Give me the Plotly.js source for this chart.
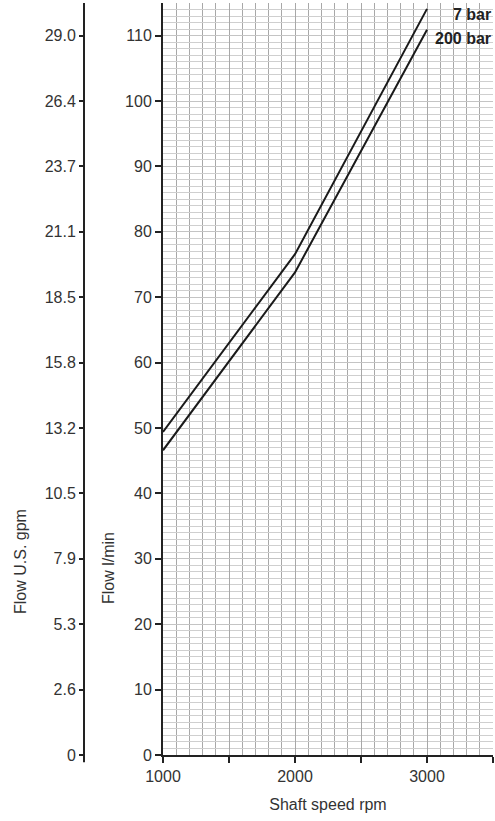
<!DOCTYPE html>
<html>
<head>
<meta charset="utf-8">
<script src="https://cdn.plot.ly/plotly-3.0.1.min.js"></script>
<style>html,body{margin:0;padding:0;background:#fff;}</style>
</head>
<body>
<div id="chart" style="width:495px;height:821px;"></div>
<script>
// Data
const speedRpm = [1000, 2000, 3000];
const flow7bar = [49.4, 76.6, 114.1];
const flow200bar = [46.6, 73.8, 110.9];
const seriesNames = ['7 bar', '200 bar'];
const lpmTicks = [0, 10, 20, 30, 40, 50, 60, 70, 80, 90, 100, 110];
const gpmTickText = ['0', '2.6', '5.3', '7.9', '10.5', '13.2', '15.8', '18.5', '21.1', '23.7', '26.4', '29.0'];
const xTickVals = [1000, 1500, 2000, 2500, 3000, 3500];
const xTickText = ['1000', '', '2000', '', '3000', ''];

const W = 495, H = 821;
const mL = 60, mR = 2, mT = 3, mB = 66;
const pw = W - mL - mR;
const ph = H - mT - mB;
const xDomStart = (163 - mL) / pw;
const y2Pos = (84 - mL) / pw;
const ink = '#222';
const font = {family: 'Liberation Sans, Arial, sans-serif', size: 16, color: '#333'};

const traces = [
  {x: speedRpm, y: flow7bar, name: seriesNames[0], mode: 'lines', line: {color: '#1a1a1a', width: 2}, xaxis: 'x', yaxis: 'y'},
  {x: speedRpm, y: flow200bar, name: seriesNames[1], mode: 'lines', line: {color: '#1a1a1a', width: 2}, xaxis: 'x', yaxis: 'y'},
  {x: [1000], y: [0], mode: 'markers', marker: {opacity: 0}, hoverinfo: 'skip', showlegend: false, xaxis: 'x', yaxis: 'y2'}
];

const layout = {
  width: W, height: H,
  margin: {l: mL, r: mR, t: mT, b: mB},
  paper_bgcolor: '#fff', plot_bgcolor: '#fff',
  showlegend: false,
  font: font,
  xaxis: {
    domain: [xDomStart, 1],
    range: [1000, 3500],
    tickvals: xTickVals, ticktext: xTickText,
    ticks: 'outside', ticklen: 6, tickwidth: 2, tickcolor: ink,
    showline: true, linecolor: ink, linewidth: 2,
    showgrid: true, gridcolor: '#a8a8a8', gridwidth: 1,
    minor: {dtick: 100, showgrid: true, gridcolor: '#a8a8a8', gridwidth: 1},
    zeroline: false,
    tickfont: font,
    title: {text: 'Shaft speed rpm', font: font, standoff: 15},
    fixedrange: true
  },
  yaxis: {
    range: [0, 115],
    tickvals: lpmTicks,
    ticks: 'outside', ticklen: 6, tickwidth: 2, tickcolor: ink,
    showline: true, linecolor: ink, linewidth: 2,
    showgrid: true, gridcolor: '#c4c4c4', gridwidth: 1,
    minor: {dtick: 1, showgrid: true, gridcolor: '#cfcfcf', gridwidth: 1},
    zeroline: false,
    tickfont: font,
    fixedrange: true
  },
  yaxis2: {
    overlaying: 'y', anchor: 'free', position: y2Pos, side: 'left',
    range: [0, 115],
    tickvals: lpmTicks, ticktext: gpmTickText,
    ticks: 'outside', ticklen: 5, tickwidth: 2, tickcolor: ink,
    showline: false, showgrid: false, zeroline: false,
    tickfont: font,
    fixedrange: true
  },
  shapes: [
    {type: 'line', xref: 'paper', yref: 'paper', x0: y2Pos, x1: y2Pos, y0: -0.0095, y1: 1, line: {color: ink, width: 2}}
  ],
  annotations: [
    {text: 'Flow U.S. gpm', xref: 'paper', yref: 'paper', x: (20 - mL) / pw, y: 1 - (562 - mT) / ph, textangle: -90, showarrow: false, xanchor: 'center', yanchor: 'middle', font: font},
    {text: 'Flow l/min', xref: 'paper', yref: 'paper', x: (108 - mL) / pw, y: 1 - (568 - mT) / ph, textangle: -90, showarrow: false, xanchor: 'center', yanchor: 'middle', font: font},
    {text: '<b>7 bar</b>', xref: 'paper', yref: 'paper', x: 1, y: 1 - (14 - mT) / ph, showarrow: false, xanchor: 'right', yanchor: 'middle', font: {family: font.family, size: 16, color: '#222'}},
    {text: '<b>200 bar</b>', xref: 'paper', yref: 'paper', x: 1, y: 1 - (38 - mT) / ph, showarrow: false, xanchor: 'right', yanchor: 'middle', font: {family: font.family, size: 16, color: '#222'}}
  ]
};

Plotly.newPlot('chart', traces, layout, {displayModeBar: false, staticPlot: true});
</script>
</body>
</html>
